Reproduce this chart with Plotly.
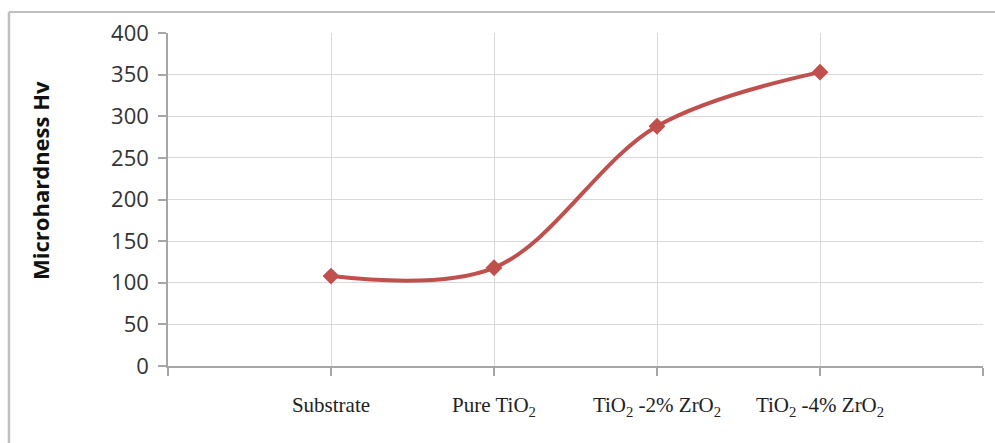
import plotly.graph_objects as go

categories = ["Substrate", "Pure TiO<sub>2</sub>", "TiO<sub>2</sub> -2% ZrO<sub>2</sub>", "TiO<sub>2</sub> -4% ZrO<sub>2</sub>"]
positions = [1, 2, 3, 4]
hardness = [108, 118, 288, 353]
y_ticks = [0, 50, 100, 150, 200, 250, 300, 350, 400]

RED = "#C0504D"

fig = go.Figure()
fig.add_trace(go.Scatter(
    x=positions, y=hardness, mode="lines+markers",
    line=dict(color=RED, width=4, shape="spline", smoothing=1),
    marker=dict(symbol="diamond", size=13, color=RED),
    showlegend=False,
))

fig.update_layout(
    width=995, height=443,
    margin=dict(l=168, r=12, t=33, b=77),
    paper_bgcolor="white", plot_bgcolor="white",
    xaxis=dict(
        range=[0, 5], tickvals=[0, 1, 2, 3, 4, 5],
        ticktext=[""] + categories + [""],
        showgrid=True, gridcolor="#d9d9d9", gridwidth=1,
        showline=True, linecolor="#a6a6a6", linewidth=2,
        ticks="outside", ticklen=8, tickcolor="#a6a6a6", tickwidth=1.5,
        tickfont=dict(family="Liberation Serif", size=21, color="#222222"),
        ticklabelstandoff=11, zeroline=False,
    ),
    yaxis=dict(
        range=[0, 400], tickvals=y_ticks,
        showgrid=True, gridcolor="#d9d9d9", gridwidth=1,
        showline=True, linecolor="#a6a6a6", linewidth=1.5,
        ticks="outside", ticklen=8, tickcolor="#a6a6a6", tickwidth=1.5,
        tickfont=dict(family="Open Sans", size=22, color="#333333"),
        ticklabelstandoff=5, zeroline=False,
    ),
    annotations=[dict(
        text="<b>Microhardness Hv</b>", textangle=-90,
        xref="paper", yref="paper", x=-0.157, y=0.556,
        xanchor="center", yanchor="middle",
        showarrow=False, font=dict(family="Open Sans", size=22, color="#111111"),
    )],
    shapes=[
        dict(type="line", xref="paper", yref="paper", x0=-0.1951, x1=1.0147, y0=1.0631, y1=1.0631,
             line=dict(color="#bfbfbf", width=2)),
        dict(type="line", xref="paper", yref="paper", x0=-0.1951, x1=-0.1951, y0=1.0631, y1=-0.2312,
             line=dict(color="#bfbfbf", width=2.5)),
    ],
)

fig.write_html("out.html")
